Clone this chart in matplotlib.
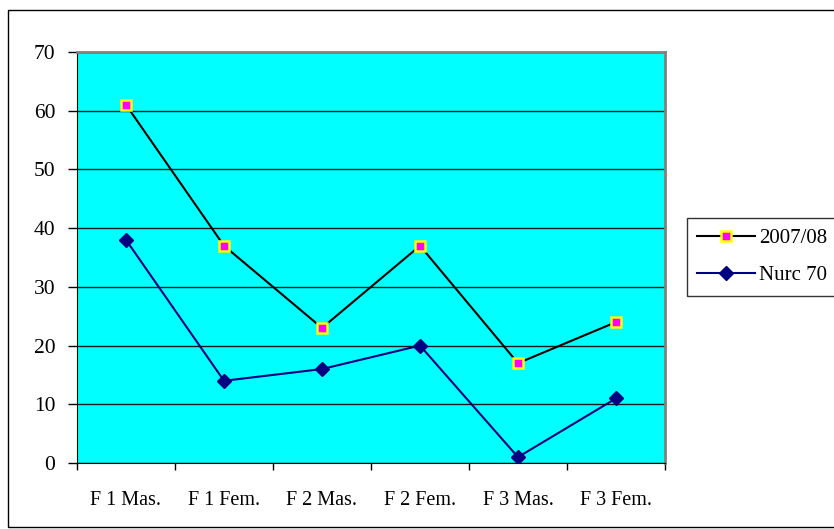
import matplotlib.pyplot as plt
from matplotlib.patches import Rectangle
import numpy as np

categories = ['F 1 Mas.', 'F 1 Fem.', 'F 2 Mas.', 'F 2 Fem.', 'F 3 Mas.', 'F 3 Fem.']
serie_2007 = [61, 37, 23, 37, 17, 24]
serie_nurc = [38, 14, 16, 20, 1, 11]
y_ticks = [0, 10, 20, 30, 40, 50, 60, 70]

plt.rcParams['font.family'] = ['Liberation Serif', 'DejaVu Serif']

fig = plt.figure(figsize=(8.34, 5.29), dpi=100)
ax = fig.add_axes([77/834, 1-463/529, 588/834, 411/529])
ax.set_facecolor('#00ffff')

x = np.arange(len(categories))
ax.plot(x, serie_2007, color='black', lw=1.5, marker='s', ms=7,
        mfc='#ff00ff', mec='#ffff00', mew=1.8, label='2007/08', zorder=3)
ax.plot(x, serie_nurc, color='#000080', lw=1.5, marker='D', ms=7,
        mfc='#000080', mec='#000080', label='Nurc 70', zorder=3)

ax.set_xlim(-0.5, len(categories)-0.5)
ax.set_ylim(0, 70)
ax.set_yticks(y_ticks)
ax.set_xticks(x)
ax.set_xticklabels(categories)
ax.set_xticks(np.arange(-0.5, len(categories)), minor=True)
ax.tick_params(axis='x', which='major', length=0, labelsize=14.5, pad=20)
ax.tick_params(axis='x', which='minor', length=5, width=1, color='black')
ax.tick_params(axis='y', length=6.5, width=1, labelsize=15.5, pad=9)
ax.grid(axis='y', color='#1a1a1a', lw=1, zorder=1)
ax.set_axisbelow(True)

ax.spines['left'].set_color('black')
ax.spines['bottom'].set_color('black')
ax.spines['top'].set_color('#808080')
ax.spines['right'].set_color('#808080')
ax.spines['top'].set_linewidth(2)
ax.spines['right'].set_linewidth(2)

leg = ax.legend(loc='upper left', bbox_to_anchor=(687/834, 1-218/529, 0.3, 0.0),
                bbox_transform=fig.transFigure, frameon=True, fancybox=False,
                edgecolor='black', fontsize=15, handlelength=2.75, handletextpad=0.2,
                borderaxespad=0, labelspacing=0.85, borderpad=0.5)
leg.get_frame().set_linewidth(1)

fig.patches.append(Rectangle((8/834, 1-527/529), 1.0, 517/529, transform=fig.transFigure,
                             fill=False, edgecolor='black', lw=1))

fig.savefig('out.png', dpi=100, facecolor='white')
